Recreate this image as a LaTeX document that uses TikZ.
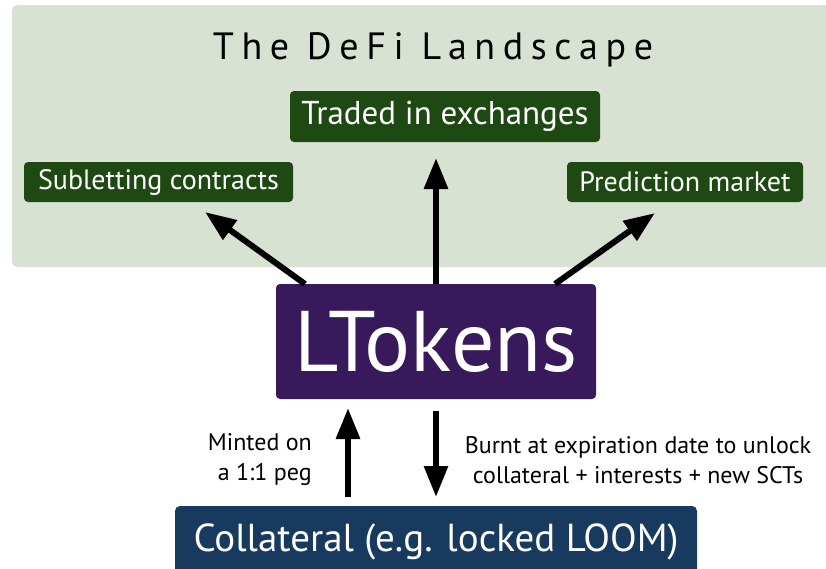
\documentclass[tikz,border=0pt]{standalone}
\usepackage{fontspec}
\setmainfont{PT Sans}
\newfontfamily\condfont{PT Sans}
\newfontfamily\titlefont[LetterSpace=20]{PT Sans}
\usetikzlibrary{arrows.meta}
\definecolor{landbg}{HTML}{D7E2D3}
\definecolor{boxgreen}{HTML}{1F4913}
\definecolor{tokpurple}{HTML}{37195C}
\definecolor{colblue}{HTML}{173A5E}
\tikzset{
  greenbox/.style={fill=boxgreen, rounded corners=4pt, text=white, inner sep=0pt, font=\condfont\fontsize{33}{38}\selectfont},
  smallgreen/.style={greenbox, minimum height=40pt, font=\condfont\fontsize{28}{32}\selectfont},
  bigarrow/.style={line width=6pt, -{Triangle[length=31pt,width=23pt]}},
  lbl/.style={font=\condfont\fontsize{24}{30}\selectfont, inner sep=0pt}
}
\begin{document}
\begin{tikzpicture}[x=1pt,y=-1pt]
\useasboundingbox (0,0) rectangle (826,568);
\fill[landbg, rounded corners=6pt] (12,5) rectangle (840,267);
\node[font=\titlefont\fontsize{38}{42}\selectfont, inner sep=0pt] (title) at (433,50) {The DeFi Landscape};
\node[greenbox, minimum width=310pt, minimum height=51pt] (traded) at (445,116.5) {Traded in exchanges};
\node[smallgreen, minimum width=269pt] (sublet) at (158.5,182) {Subletting contracts};
\node[smallgreen, minimum width=236pt] (pred) at (685,182) {Prediction market};
\node[fill=tokpurple, rounded corners=4pt, text=white, inner sep=0pt, minimum width=320pt, minimum height=115pt, font=\condfont\fontsize{86}{96}\selectfont] (ltok) at (436,341.5) {LTokens};
\node[fill=colblue, rounded corners=5pt, text=white, inner sep=0pt, minimum width=522pt, minimum height=72pt, font=\condfont\fontsize{39}{44}\selectfont] (coll) at (436,542) {Collateral (e.g. locked LOOM)};
\coordinate (tl) at (205,212);
\coordinate (tr) at (655,213);
\coordinate (tc) at (436,158);
\coordinate (ltl) at (305,284);
\coordinate (ltc) at (436,284);
\coordinate (ltr) at (555,284);
\draw[bigarrow] (ltl) -- (tl);
\draw[bigarrow] (ltc) -- (tc);
\draw[bigarrow] (ltr) -- (tr);
\coordinate (upbot) at (348,497);
\coordinate (uptop) at (348,408);
\coordinate (dntop) at (436,411);
\coordinate (dnbot) at (436,497);
\draw[bigarrow] (upbot) -- (uptop);
\draw[bigarrow] (dntop) -- (dnbot);
\node[lbl, align=right, anchor=east] (mint) at (312,460) {Minted on\\a 1:1 peg};
\node[lbl, align=center] (burnt) at (638,460) {Burnt at expiration date to unlock\\collateral + interests + new SCTs};
\end{tikzpicture}
\end{document}
